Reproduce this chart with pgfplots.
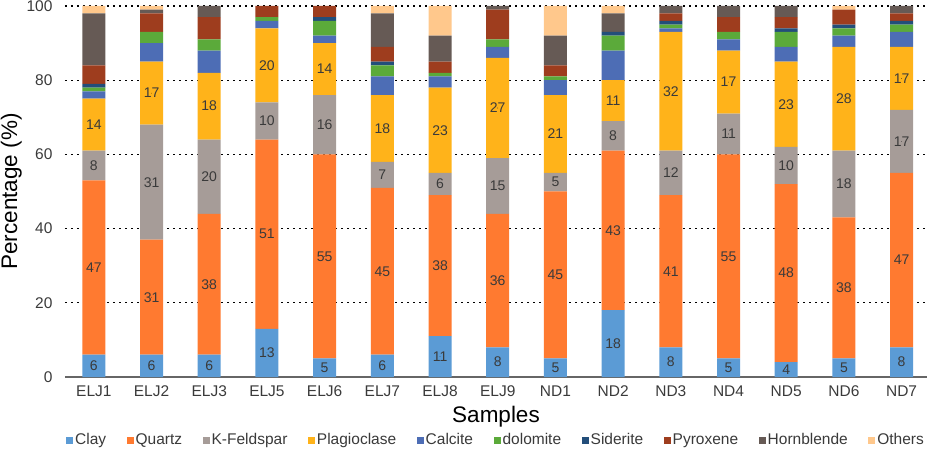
\documentclass[border=0pt]{standalone}
\usepackage{pgfplots}
\usepackage{pgfplotstable}
\pgfplotsset{compat=1.18}
\usepackage{fontspec}
\setmainfont{Liberation Sans}
\definecolor{cClay}{HTML}{5B9BD5}
\definecolor{cQuartz}{HTML}{FF7A30}
\definecolor{cKfs}{HTML}{A69C98}
\definecolor{cPlag}{HTML}{FFB31A}
\definecolor{cCalc}{HTML}{4D6DB5}
\definecolor{cDol}{HTML}{5BAA3A}
\definecolor{cSid}{HTML}{234E7A}
\definecolor{cPyr}{HTML}{9E3D1E}
\definecolor{cHorn}{HTML}{665A55}
\definecolor{cOth}{HTML}{FFC88C}
\definecolor{txt}{HTML}{3A3A3A}
\pgfplotstableread{
x clay quartz kfs plag calc dol sid pyr horn oth
0 6 47 8 14 2 1 1 5 14 2
1 6 31 31 17 5 3 0 5 1 1
2 6 38 20 18 6 3 0 6 3 0
3 13 51 10 20 2 1 0 3 0 0
4 5 55 16 14 2 4 1 3 0 0
5 6 45 7 18 5 3 1 4 9 2
6 11 38 6 23 3 1 0 3 7 8
7 8 36 15 27 3 2 0 8 1 0
8 5 45 5 21 4 1 0 3 8 8
9 18 43 8 11 8 4 1 0 5 2
10 8 41 12 32 1 1 1 2 2 0
11 5 55 11 17 3 2 0 4 3 0
12 4 48 10 23 4 4 1 3 3 0
13 5 38 18 28 3 2 1 4 0 1
14 8 47 17 17 4 2 1 2 2 0
}\datatable
\pgfplotsset{
  common/.style={
    scale only axis,
    width=862pt, height=371pt,
    xmin=-0.5, xmax=14.44,
    ymin=0, ymax=100,
  },
  lbl/.style={
    only marks, mark=*, mark size=0.01pt, mark options={draw=none, fill=none},
    point meta=explicit,
    nodes near coords={\pgfmathprintnumber[assume math mode=true]{\pgfplotspointmeta}},
    nodes near coords align=center,
    every node near coord/.append style={anchor=center,
      font=\fontsize{14}{16}\selectfont, text=txt, inner sep=0pt},
  },
}
\begin{document}
\begin{tikzpicture}
\begin{axis}[
  common,
  name=ax,
  ybar stacked,
  bar width=23pt,
  xtick=data,
  xticklabels={ELJ1,ELJ2,ELJ3,ELJ5,ELJ6,ELJ7,ELJ8,ELJ9,ND1,ND2,ND3,ND4,ND5,ND6,ND7},
  ytick={20,40,60,80,100},
  extra y ticks={0},
  extra y tick style={grid style={solid, draw=gray!80!black, line width=1.1pt}},
  ymajorgrids,
  grid style={black, line width=1.2pt, dash pattern=on 2.4pt off 3.6pt},
  axis line style={draw=none},
  major tick length=0pt,
  tick label style={font=\fontsize{15.5}{18}\selectfont, text=txt},
  /pgf/number format/assume math mode=true,
  xticklabel style={yshift=-5pt},
  yticklabel style={xshift=-9pt},
  xlabel={Samples},
  ylabel={Percentage (\%)},
  label style={font=\fontsize{22.5}{26}\selectfont, text=black},
  xlabel style={yshift=-3pt},
  ylabel style={yshift=-2pt},
  legend columns=10,
  legend style={draw=none, at={(0.5,-0.170)}, anchor=center,
    font=\fontsize{15.5}{18}\selectfont, text=txt,
    /tikz/every even column/.append style={column sep=18.5pt}},
  legend image code/.code={\draw[#1, draw=none] (0pt,-3.5pt) rectangle (7pt,3.5pt);},
  clip=false,
]
\addplot[fill=cClay, draw=none] table[x=x, y=clay] {\datatable};
\addplot[fill=cQuartz, draw=none] table[x=x, y=quartz] {\datatable};
\addplot[fill=cKfs, draw=none] table[x=x, y=kfs] {\datatable};
\addplot[fill=cPlag, draw=none] table[x=x, y=plag] {\datatable};
\addplot[fill=cCalc, draw=none] table[x=x, y=calc] {\datatable};
\addplot[fill=cDol, draw=none] table[x=x, y=dol] {\datatable};
\addplot[fill=cSid, draw=none] table[x=x, y=sid] {\datatable};
\addplot[fill=cPyr, draw=none] table[x=x, y=pyr] {\datatable};
\addplot[fill=cHorn, draw=none] table[x=x, y=horn] {\datatable};
\addplot[fill=cOth, draw=none] table[x=x, y=oth] {\datatable};
\legend{Clay, Quartz, K-Feldspar, Plagioclase, Calcite, dolomite, Siderite, Pyroxene, Hornblende, Others}
\end{axis}
\begin{axis}[common, hide axis, clip=false]
\addplot[lbl] table[x=x, y expr={\thisrow{clay}/2}, meta=clay] {\datatable};
\addplot[lbl] table[x=x, y expr={\thisrow{clay}+\thisrow{quartz}/2}, meta=quartz] {\datatable};
\addplot[lbl] table[x=x, y expr={\thisrow{clay}+\thisrow{quartz}+\thisrow{kfs}/2}, meta=kfs] {\datatable};
\addplot[lbl] table[x=x, y expr={\thisrow{clay}+\thisrow{quartz}+\thisrow{kfs}+\thisrow{plag}/2}, meta=plag] {\datatable};
\end{axis}
\pgfresetboundingbox
\path ([xshift=-65pt,yshift=-73pt]ax.south west) rectangle ([yshift=6pt]ax.north east);
\end{tikzpicture}
\end{document}
